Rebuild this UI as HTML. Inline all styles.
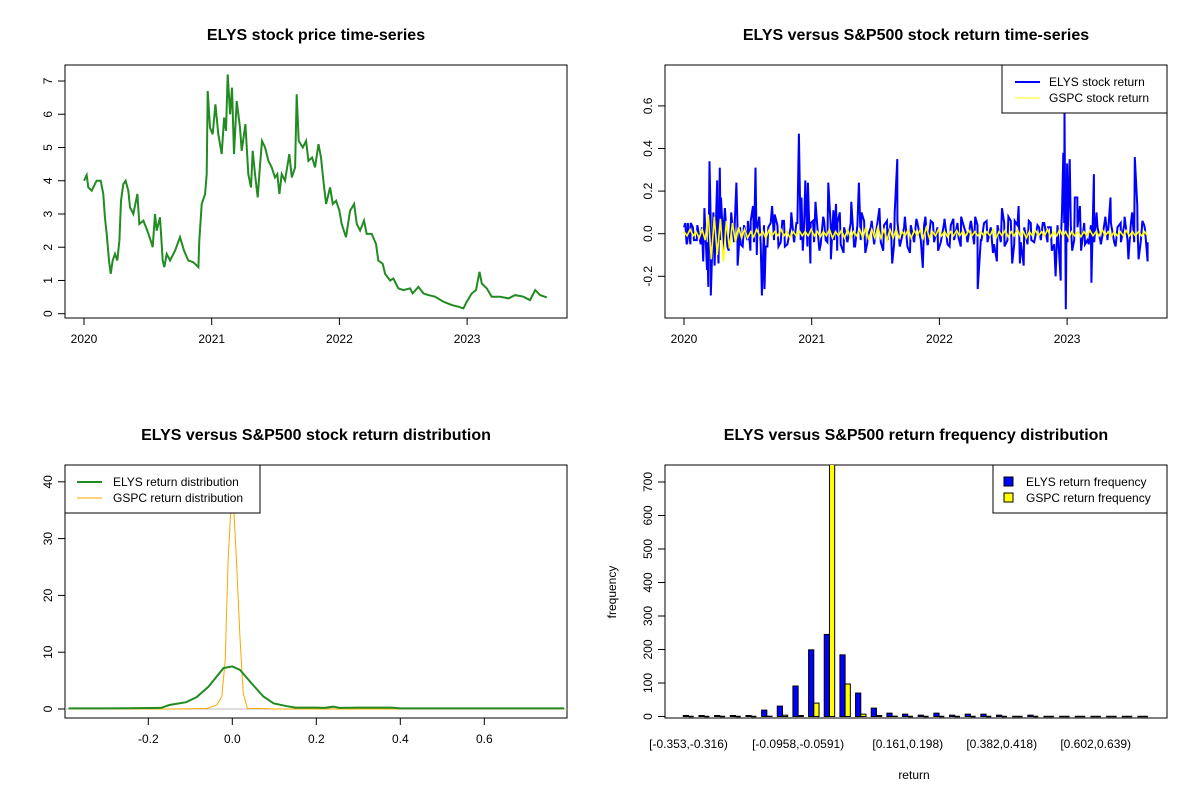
<!DOCTYPE html>
<html><head><meta charset="utf-8">
<style>
body{margin:0;background:#fff;}
svg{display:block;font-family:"Liberation Sans",Arial,sans-serif;}
.t{font-size:16px;font-weight:bold;text-anchor:middle;}
</style></head>
<body>
<svg id="c" width="1200" height="800" viewBox="0 0 1200 800">
<rect width="1200" height="800" fill="#fff"/>
<text class="t" x="316" y="40">ELYS stock price time-series</text>
<text class="t" x="916" y="40">ELYS versus S&amp;P500 stock return time-series</text>
<text class="t" x="316" y="440">ELYS versus S&amp;P500 stock return distribution</text>
<text class="t" x="916" y="440">ELYS versus S&amp;P500 return frequency distribution</text>
<g id="g"></g>
</svg>
<script>
// ---- price data (years since 2020, price) ----
const priceT=[0,.021,.034,.060,.099,.131,.151,.164,.178,.196,.209,.225,.243,.261,.277,.290,.308,.326,.347,.360,.386,.418,.433,.465,.496,.522,.538,.556,.569,.595,.616,.629,.648,.674,.713,.752,.783,.817,.856,.896,.903,.922,.948,.961,.969,.987,1.008,1.029,1.052,1.078,1.097,1.112,1.125,1.144,1.159,1.175,1.196,1.222,1.235,1.264,1.287,1.308,1.321,1.339,1.360,1.379,1.394,1.418,1.444,1.470,1.496,1.514,1.530,1.548,1.574,1.608,1.627,1.653,1.666,1.681,1.713,1.739,1.757,1.786,1.809,1.836,1.856,1.875,1.896,1.927,1.948,1.974,2.000,2.018,2.052,2.084,2.115,2.136,2.162,2.193,2.214,2.253,2.287,2.305,2.339,2.358,2.397,2.423,2.462,2.501,2.554,2.574,2.619,2.658,2.697,2.749,2.815,2.880,2.932,2.971,2.997,3.037,3.070,3.097,3.115,3.154,3.193,3.258,3.324,3.376,3.441,3.493,3.533,3.572,3.624];
const priceV=[4.0,4.17,3.8,3.7,4.0,4.0,3.6,2.9,2.4,1.6,1.2,1.6,1.8,1.6,2.2,3.4,3.9,4.0,3.7,3.2,3.0,3.6,2.7,2.8,2.5,2.2,2.0,3.0,2.5,2.9,1.6,1.4,1.8,1.6,1.9,2.3,1.9,1.6,1.55,1.4,2.2,3.3,3.6,4.2,6.7,5.6,5.4,6.3,5.4,4.8,5.9,5.5,7.2,6.0,6.8,4.8,6.4,5.6,4.9,5.7,4.2,3.8,4.9,4.2,3.5,4.5,5.2,5.0,4.6,4.4,4.1,4.2,3.6,4.2,4.0,4.8,4.1,4.4,6.6,5.2,5.0,5.2,4.6,4.7,4.4,5.1,4.7,4.0,3.3,3.8,3.3,3.4,3.1,2.7,2.3,3.1,3.3,2.7,2.5,2.8,2.4,2.4,2.1,1.6,1.5,1.2,1.0,1.06,0.76,0.71,0.76,0.61,0.81,0.61,0.56,0.51,0.36,0.26,0.21,0.16,0.36,0.61,0.71,1.26,0.91,0.76,0.51,0.51,0.46,0.56,0.51,0.41,0.71,0.56,0.49];
// ---- ELYS returns: large moves ----
const retT=[.01,.02,.03,.05,.07,.10,.14,.15,.16,.18,.19,.20,.21,.23,.24,.26,.27,.28,.29,.31,.32,.35,.37,.39,.41,.42,.44,.46,.50,.52,.54,.56,.57,.59,.61,.63,.64,.66,.69,.71,.74,.77,.79,.84,.86,.88,.90,.92,.93,.95,.97,.99,1.01,1.03,1.06,1.09,1.11,1.13,1.15,1.17,1.19,1.20,1.22,1.25,1.31,1.34,1.37,1.39,1.42,1.44,1.47,1.53,1.56,1.59,1.63,1.65,1.67,1.69,1.73,1.77,1.82,1.87,1.89,1.91,1.95,1.99,2.04,2.08,2.11,2.15,2.17,2.21,2.25,2.28,2.30,2.33,2.37,2.42,2.45,2.49,2.51,2.54,2.57,2.59,2.62,2.63,2.66,2.70,2.72,2.78,2.81,2.85,2.88,2.91,2.95,2.96,2.97,2.98,2.99,3.00,3.02,3.04,3.06,3.08,3.10,3.11,3.14,3.17,3.19,3.21,3.23,3.26,3.30,3.34,3.38,3.42,3.45,3.48,3.51,3.53,3.55,3.56,3.59,3.61,3.63];
const retV=[.05,-.05,.05,-.05,.03,-.03,.03,-.13,.12,-.17,-.25,.34,-.29,.10,-.15,.25,-.14,.31,.17,-.08,.12,-.08,.10,-.03,.24,-.15,.03,-.06,.06,-.08,.13,.31,-.10,.08,-.29,-.26,-.06,.03,.13,.09,-.06,.06,-.06,.10,-.03,.05,.47,.17,-.08,.25,.24,-.14,.06,.15,-.08,.08,-.03,.24,-.12,.11,.14,-.08,.10,-.09,.15,-.06,.24,.10,-.09,-.01,.06,.12,-.08,.06,-.14,.10,.35,-.06,.08,-.09,.07,-.16,.08,-.05,.05,-.08,.07,-.06,.07,-.02,.08,0,.05,.08,-.26,-.03,.06,-.09,-.13,.12,-.06,.08,-.14,.06,.13,-.14,-.15,.06,-.03,.03,.05,.03,-.08,-.20,-.22,.10,.38,.58,-.355,.33,.35,-.08,.17,.17,.13,-.08,-.05,-.05,-.23,.28,.10,-.03,.08,.17,-.06,.05,.08,-.12,.10,.36,.13,-.12,.06,.02,-.13];
// ---- ELYS returns: everyday small moves (evenly spaced) ----
const retSmall=[.03,-.04,.05,-.03,.04,-.05,.02,-.04,.06,-.05,.04,-.03,.05,-.06,.03,-.04,.05,-.05,.04,-.03,.06,-.04,.03,-.05,.04,-.06,.05,-.03,.04,-.04,.06,-.05,.03,-.04,.05,-.03,.04,-.06,.05,-.04,.03,-.05,.06,-.04,.04,-.03,.05,-.05,.03,-.04,.05,-.06,.04,-.03,.06,-.04,.03,-.05,.05,-.04,.04,-.03,.05,-.05,.06,-.04,.03,-.06,.04,-.04,.05,-.03,.04,-.05,.06,-.04,.03,-.04,.05,-.05,.04,-.03,.05,-.06,.03,-.04,.06,-.05,.04,-.03,.05,-.04,.03,-.05,.04,-.04,.05,-.03,.06,-.05,.04,-.04,.03,-.05,.05,-.04,.04,-.03,.05,-.04,.03,-.05,.04,-.03,.05,-.04,.04,-.03,.03,-.04,.05,-.03,.04,-.04,.03,-.05,.04,-.03,.05,-.04,.03,-.04,.04,-.03,.05,-.04,.03,-.03,.04,-.04];
// ---- GSPC returns (evenly spaced over the period) ----
const gspcV=[.01,-.01,.02,-.01,.01,-.02,.02,-.03,.09,-.12,.08,-.10,.07,-.13,.06,-.07,.05,-.04,.03,-.02,.02,-.02,.01,-.015,.02,-.01,.01,-.02,.015,-.01,.01,-.01,.02,-.01,.01,-.02,.01,-.01,.015,-.01,.01,-.01,.02,-.01,.01,-.015,.01,-.01,.02,-.02,.01,-.01,.015,-.02,.02,-.02,.01,-.01,.02,-.02,.03,-.03,.02,-.02,.03,-.02,.02,-.03,.02,-.02,.02,-.02,.01,-.01,.02,-.02,.015,-.01,.02,-.02,.03,-.02,.01,-.01,.02,-.01,.01,-.015,.01,-.01,.015,-.01,.01,-.01,.015,-.01,.01,-.01,.01,-.01,.01,-.01,.02,-.02,.01,-.01,.015,-.015,.01,-.01,.02,-.01,.01,-.02,.01,-.01,.015,-.01,.01,-.01,.02,-.015,.01,-.01,.02,-.01,.01,-.02,.01,-.01,.01,-.015,.01,-.01,.015,-.01,.01,-.01,.02,-.01,.01,-.015,.01,-.01,.01,-.01,.015,-.01,.01,-.01,.01,-.01,.01,-.01];
// ---- densities ----
const denX=[-.39,-.30,-.17,-.15,-.11,-.085,-.057,-.021,0,.018,.046,.074,.098,.13,.15,.2,.22,.24,.256,.3,.38,.4,.79];
const elysDen=[.1,.1,.2,.7,1.2,2.1,3.9,7.2,7.5,6.9,4.5,2.2,1.0,.5,.24,.24,.2,.4,.2,.24,.24,.1,.1];
const gspcX=[-.39,-.13,-.06,-.037,-.025,-.017,-.01,-.004,.001,.004,.01,.018,.026,.036,.066,.1,.79];
const gspcDen=[0,0,.1,.7,2.2,8.6,26,34.5,42,34.5,26,12.8,2.8,.1,.1,0,0];
// ---- histogram ----
const binIdxLabeled=[0,7,14,20,26];
const binLabels=["[-0.353,-0.316)","[-0.0958,-0.0591)","[0.161,0.198)","[0.382,0.418)","[0.602,0.639)"];
const elysFreq=[3,3,3,3,3,19,31,91,199,245,184,70,25,10,7,4,10,4,7,7,4,0,4,0,0,0,0,0,0,0];
const gspcFreq=[0,0,0,0,0,1,4,3,40,860,97,7,3,1,0,0,0,0,0,0,0,0,0,0,0,0,0,0,0,0];
const priceTicks=[0,1,2,3,4,5,6,7], yearTicks=[2020,2021,2022,2023];
const retTicks=[-0.2,0,0.2,0.4,0.6], denYTicks=[0,10,20,30,40], denXTicks=[-0.2,0,0.2,0.4,0.6];
const freqTicks=[0,100,200,300,400,500,600,700];

const NS="http://www.w3.org/2000/svg", G=document.getElementById('g');
function el(tag,attrs,parent){const e=document.createElementNS(NS,tag);for(const k in attrs)e.setAttribute(k,attrs[k]);(parent||G).appendChild(e);return e;}
function txt(s,x,y,anchor,rot){const t=el('text',{x:x,y:y,'font-size':12,'text-anchor':anchor||'middle'});if(rot)t.setAttribute('transform','rotate(-90 '+x+' '+y+')');t.textContent=s;return t;}
function box(x0,y0,x1,y1,name){const r=el('rect',{x:x0,y:y0,width:x1-x0,height:y1-y0,fill:'none',stroke:'#000','stroke-width':1});

}
function yaxis(ticks,fy,x,name,fmt){ticks.forEach(v=>{const y=fy(v);el('line',{x1:x-7,x2:x,y1:y,y2:y,stroke:'#000'});
const t=txt(fmt?fmt(v):String(v),x-13,y,'middle',true);

});}
function xaxis(ticks,fx,y,name,fmt){ticks.forEach(v=>{const x=fx(v);el('line',{x1:x,x2:x,y1:y,y2:y+7,stroke:'#000'});
const t=txt(fmt?fmt(v):String(v),x,y+25);

});}
function path(xs,ys,fx,fy,color,w,name,clip){let d='';for(let i=0;i<xs.length;i++)d+=(i?'L':'M')+fx(xs[i]).toFixed(1)+','+fy(ys[i]).toFixed(1);
const p=el('path',{d:d,fill:'none',stroke:color,'stroke-width':w,'stroke-linejoin':'miter'});
if(clip)p.setAttribute('clip-path','url(#'+clip+')');

return p;}
const defs=el('defs',{});
[['c1',65,465,502,253],['c2',665,465,502,253]].forEach(c=>{const cp=el('clipPath',{id:c[0]},defs);el('rect',{x:c[1],y:c[2],width:c[3],height:c[4]},cp);});

// Panel 1: price
const p1x=t=>84+t*127.7, p1y=v=>313.7-v*33.24;
box(65,65,567,318,'price-plot-box');
yaxis(priceTicks,p1y,65,'price-y-tick');
xaxis(yearTicks,y=>p1x(y-2020),318,'price-x-tick');
path(priceT,priceV,p1x,p1y,'#228B22',2,'elys-price-line');

// Panel 2: returns
const p2x=t=>684+t*127.7, p2y=v=>233.7-v*213;
box(665,65,1167,318,'returns-plot-box');
yaxis(retTicks,p2y,665,'returns-y-tick',v=>v.toFixed(1));
xaxis(yearTicks,y=>p2x(y-2020),318,'returns-x-tick');
// merge large moves with evenly spaced everyday moves, in time order
const merged=retT.map((t,i)=>[t,retV[i]]).concat(retSmall.map((v,i)=>[i*3.63/(retSmall.length-1),v])).sort((a,b)=>a[0]-b[0]);
path(merged.map(m=>m[0]),merged.map(m=>m[1]),p2x,p2y,'#0000FF',2,'elys-return-line');
const gT=gspcV.map((v,i)=>i*3.63/(gspcV.length-1));
path(gT,gspcV,p2x,p2y,'#FFFF00',1.6,'gspc-return-line');
const lg2=el('g',{});


el('rect',{x:1002,y:65,width:165,height:48,fill:'#fff',stroke:'#000'},lg2);
el('line',{x1:1015,x2:1040,y1:82,y2:82,stroke:'#0000FF','stroke-width':2},lg2);
el('line',{x1:1015,x2:1040,y1:98,y2:98,stroke:'#FFFF00','stroke-width':1},lg2);
lg2.appendChild(txt('ELYS stock return',1049,86,'start'));
lg2.appendChild(txt('GSPC stock return',1049,102,'start'));

// Panel 3: density
const p3x=v=>232.3+v*420, p3y=v=>709-v*5.68;
box(65,465,567,718,'density-plot-box');
yaxis(denYTicks,p3y,65,'density-y-tick');
xaxis(denXTicks,p3x,718,'density-x-tick',v=>v.toFixed(1));
el('line',{x1:65,x2:567,y1:p3y(0),y2:p3y(0),stroke:'#bebebe'});
path(gspcX,gspcDen,p3x,p3y,'#FFA500',1,'gspc-density-line','c1');
path(denX,elysDen,p3x,p3y,'#228B22',2,'elys-density-line','c1');
const lg3=el('g',{});


el('rect',{x:65,y:465,width:195,height:48,fill:'#fff',stroke:'#000'},lg3);
el('line',{x1:77,x2:102,y1:482,y2:482,stroke:'#228B22','stroke-width':2},lg3);
el('line',{x1:77,x2:102,y1:498,y2:498,stroke:'#FFA500','stroke-width':1},lg3);
lg3.appendChild(txt('ELYS return distribution',113,486,'start'));
lg3.appendChild(txt('GSPC return distribution',113,502,'start'));

// Panel 4: histogram
const bw=5.22, g0=683.3, p4y=v=>716.5-v*0.335;
box(665,465,1167,718,'frequency-plot-box');
yaxis(freqTicks,p4y,665,'frequency-y-tick');
const bars=el('g',{'clip-path':'url(#c2)'});
function bar(x,v,fill,name){
  if(v>0){const b=el('rect',{x:x,y:p4y(v),width:bw,height:p4y(0)-p4y(v),fill:fill,stroke:'#000','stroke-width':1},bars);
  
  }
  else{const b=el('line',{x1:x,x2:x+bw,y1:p4y(0),y2:p4y(0),stroke:'#000','stroke-width':1.5},bars);
  
  }
}
elysFreq.forEach((v,i)=>{const x=g0+i*3*bw;bar(x,v,'#0000FF','elys-freq-bar');bar(x+bw,gspcFreq[i],'#FFFF00','gspc-freq-bar');});
binIdxLabeled.forEach((bi,k)=>{const x=g0+bi*3*bw+bw;
const t=txt(binLabels[k],x,748);

});
const xl=txt('return',914,779);


const yl=txt('frequency',616,592,'middle',true);


const lg4=el('g',{});


el('rect',{x:993,y:465,width:174,height:48,fill:'#fff',stroke:'#000'},lg4);
el('rect',{x:1004,y:477,width:9,height:9,fill:'#0000FF',stroke:'#000'},lg4);
el('rect',{x:1004,y:493,width:9,height:9,fill:'#FFFF00',stroke:'#000'},lg4);
lg4.appendChild(txt('ELYS return frequency',1026,486,'start'));
lg4.appendChild(txt('GSPC return frequency',1026,502,'start'));
</script>
</body></html>
